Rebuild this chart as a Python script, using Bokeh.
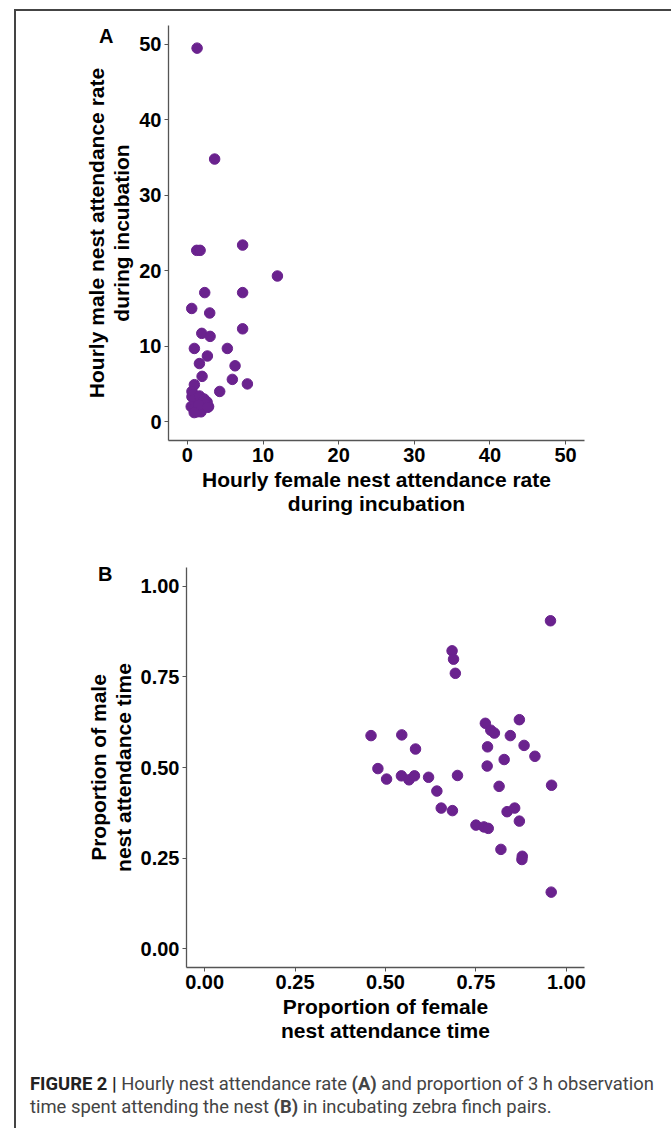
from bokeh.plotting import figure
from bokeh.models import FixedTicker, NumeralTickFormatter, Range1d, Div, LinearAxis
from bokeh.layouts import column
from bokeh.embed import file_html
from bokeh.resources import INLINE

# Panel A: hourly nest attendance rates
female_rate = [1.28, 3.6, 1.23, 1.68, 7.3, 11.9, 2.29, 7.3, 0.57, 2.95, 7.3, 1.9, 3.0,
               0.92, 5.28, 2.64, 1.59, 6.3, 1.94, 5.94, 0.92, 7.93, 4.27,
               0.6, 0.6, 0.8, 1.0, 1.6, 2.2, 2.6, 2.8, 0.5, 1.0, 1.3, 1.8, 2.4, 1.5, 0.9, 2.7]
male_rate = [49.5, 34.8, 22.7, 22.7, 23.4, 19.3, 17.1, 17.1, 15.0, 14.4, 12.3, 11.7, 11.3,
             9.7, 9.7, 8.7, 7.7, 7.4, 6.0, 5.6, 4.9, 5.0, 4.0,
             4.0, 3.3, 3.6, 3.0, 3.4, 3.0, 2.6, 2.0, 2.0, 1.8, 1.3, 1.3, 2.3, 2.2, 1.2, 1.9]

# Panel B: proportion of attendance time
female_prop = [0.956, 0.684, 0.688, 0.693, 0.870, 0.776, 0.791, 0.801, 0.845, 0.460, 0.545,
               0.883, 0.782, 0.583, 0.913, 0.828, 0.781, 0.479, 0.503, 0.544, 0.565, 0.580,
               0.619, 0.699, 0.814, 0.959, 0.642, 0.654, 0.685, 0.836, 0.857, 0.870, 0.750,
               0.772, 0.784, 0.819, 0.878, 0.877, 0.958]
male_prop = [0.905, 0.822, 0.799, 0.760, 0.632, 0.622, 0.603, 0.595, 0.588, 0.588, 0.590,
             0.561, 0.557, 0.551, 0.531, 0.522, 0.504, 0.497, 0.468, 0.477, 0.466, 0.477,
             0.473, 0.478, 0.448, 0.451, 0.435, 0.388, 0.381, 0.378, 0.388, 0.352, 0.341,
             0.336, 0.332, 0.274, 0.255, 0.246, 0.156]

ticks_a = [0, 10, 20, 30, 40, 50]
ticks_b = [0, 0.25, 0.5, 0.75, 1.0]

PURPLE = "#6a228e"
FONT = "Liberation Sans"
AXC = "#555555"


def style(p):
    p.grid.visible = False
    p.outline_line_color = None
    p.background_fill_color = "white"
    p.border_fill_color = "white"
    for ax in p.axis:
        ax.axis_line_color = AXC
        ax.axis_line_width = 1.3
        ax.major_tick_line_color = AXC
        ax.major_tick_line_width = 1.0
        ax.major_tick_out = 4
        ax.major_tick_in = 0
        ax.minor_tick_line_color = None
        ax.major_label_text_font = FONT
        ax.major_label_text_font_style = "bold"
        ax.major_label_text_font_size = "20px"
        ax.major_label_text_color = "black"
        ax.major_label_standoff = 3
        ax.axis_label_text_font = FONT
        ax.axis_label_text_font_style = "bold"
        ax.axis_label_text_font_size = "21px"
        ax.axis_label_text_color = "black"
        ax.axis_label_text_line_height = 1.08
        ax.axis_label_standoff = 3


def panel_letter(p, yval, text, standoff):
    ax = LinearAxis(ticker=FixedTicker(ticks=[yval]), major_label_overrides={yval: text},
                    axis_line_color=None, major_tick_line_color=None,
                    minor_tick_line_color=None, major_tick_out=0, major_tick_in=0,
                    major_label_standoff=standoff,
                    major_label_text_font=FONT, major_label_text_font_style="bold",
                    major_label_text_font_size="20px", major_label_text_color="black")
    p.add_layout(ax, "left")


pA = figure(frame_width=416, frame_height=415, min_border_left=152, min_border_right=87,
            min_border_top=14, min_border_bottom=115,
            x_range=Range1d(-2.5, 52.5), y_range=Range1d(-2.5, 52.5),
            output_backend="svg", toolbar_location=None)
pA.scatter(female_rate, male_rate, size=10.5, color=PURPLE)
style(pA)
pA.xaxis.ticker = FixedTicker(ticks=ticks_a)
pA.yaxis.ticker = FixedTicker(ticks=ticks_a)
pA.xaxis.axis_label = "Hourly female nest attendance rate\nduring incubation"
pA.yaxis.axis_label = "Hourly male nest attendance rate\nduring incubation"
panel_letter(pA, 51.1, "A", -31)

pB = figure(frame_width=398, frame_height=400, min_border_left=170, min_border_right=87,
            min_border_top=12, min_border_bottom=83,
            x_range=Range1d(-0.05, 1.05), y_range=Range1d(-0.052, 1.052),
            output_backend="svg", toolbar_location=None)
pB.scatter(female_prop, male_prop, size=10.5, color=PURPLE)
style(pB)
pB.xaxis.ticker = FixedTicker(ticks=ticks_b)
pB.yaxis.ticker = FixedTicker(ticks=ticks_b)
pB.xaxis.formatter = NumeralTickFormatter(format="0.00")
pB.yaxis.formatter = NumeralTickFormatter(format="0.00")
pB.xaxis.axis_label = "Proportion of female\nnest attendance time"
pB.yaxis.axis_label = "Proportion of male\nnest attendance time"
panel_letter(pB, 1.033, "B", -29)

caption = Div(text=("<b style='color:#222'>FIGURE 2 |</b> Hourly nest attendance rate <b>(A)</b> "
                    "and proportion of 3 h observation<br>time spent attending the nest <b>(B)</b> "
                    "in incubating zebra finch pairs."),
              width=645, margin=(22, 0, 20, 14),
              styles={"font-family": "Roboto", "font-size": "18.4px", "color": "#444444",
                      "line-height": "23px"})

layout = column(column(pA), column(pB), caption, margin=(9, 0, 0, 14),
                styles={"border-left": "2px solid #444444", "border-top": "2px solid #444444"})

open("out.html", "w").write(file_html(layout, INLINE))
